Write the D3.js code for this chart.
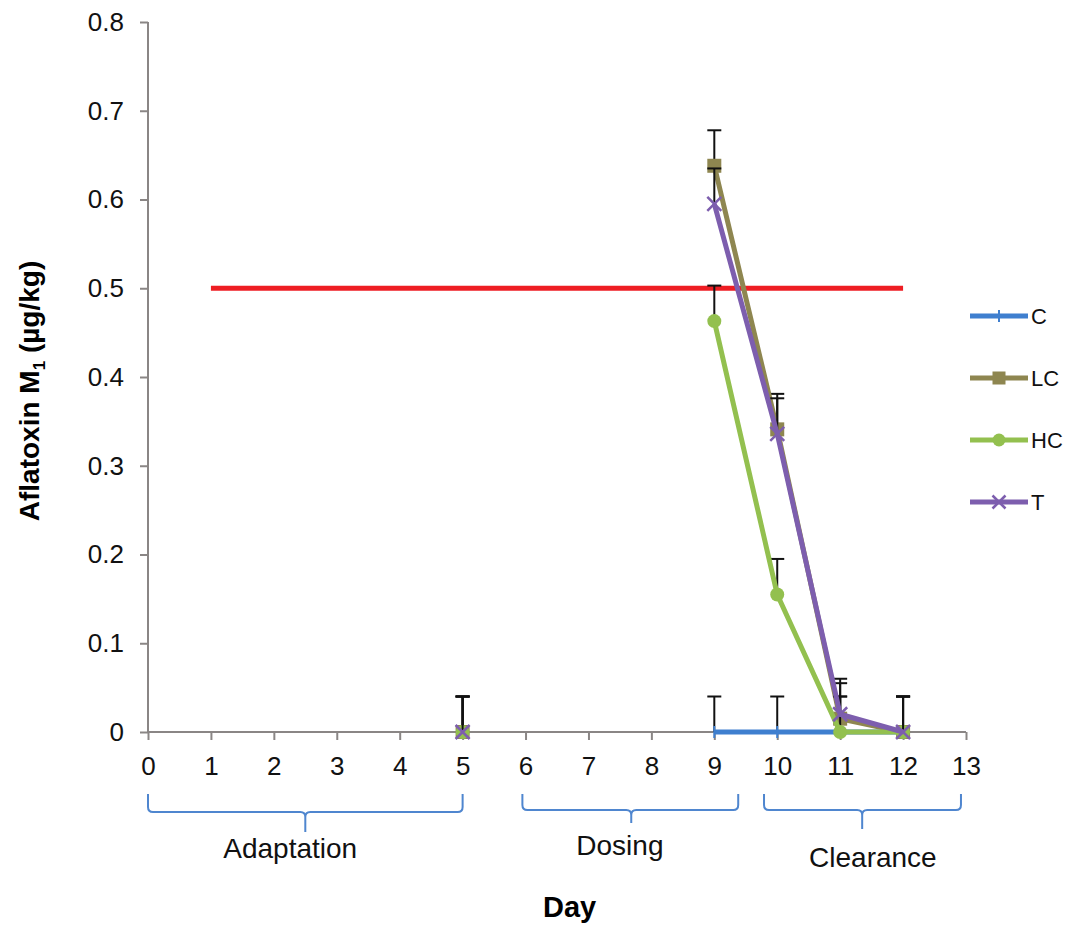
<!DOCTYPE html>
<html>
<head>
<meta charset="utf-8">
<script src="https://cdn.jsdelivr.net/npm/d3@7"></script>
<style>
    body { margin: 0; background: #ffffff; }
    svg { display: block; font-family: "Liberation Sans", Arial, sans-serif; }
</style>
</head>
<body>
<div id="chart"></div>
<script>
    //days shown on the category axis
    var days = [0, 1, 2, 3, 4, 5, 6, 7, 8, 9, 10, 11, 12, 13];

    //series values per day (null = no sample)
    var valuesC  = [null, null, null, null, null, 0, null, null, null, 0, 0, 0, 0, null];
    var valuesLC = [null, null, null, null, null, 0, null, null, null, 0.638, 0.341, 0.015, 0, null];
    var valuesHC = [null, null, null, null, null, 0, null, null, null, 0.463, 0.155, 0, 0, null];
    var valuesT  = [null, null, null, null, null, 0, null, null, null, 0.595, 0.336, 0.02, 0, null];

    //positive error bar per day
    var errorC  = [null, null, null, null, null, 0.04, null, null, null, 0.04, 0.04, 0.04, 0.04, null];
    var errorLC = [null, null, null, null, null, 0.04, null, null, null, 0.04, 0.04, 0.04, 0.04, null];
    var errorHC = [null, null, null, null, null, 0.04, null, null, null, 0.04, 0.04, 0.04, 0.04, null];
    var errorT  = [null, null, null, null, null, 0.04, null, null, null, 0.04, 0.04, 0.04, 0.04, null];

    var yTicks = [0, 0.1, 0.2, 0.3, 0.4, 0.5, 0.6, 0.7, 0.8];

    //maximum residue limit line
    var limitValue = 0.5;
    var limitDays = [1, 12];

    //study phases under the axis
    var phaseNames = ['Adaptation', 'Dosing', 'Clearance'];
    var phaseStart = [0, 5.95, 9.79];
    var phaseEnd = [5, 9.38, 12.92];
    var phaseMid = [2.5, 7.68, 11.35];
    var phaseLabelAt = [2.26, 7.5, 11.52];

    //declare needed variables
    var width = 1073,
        height = 929,
        plot = { left: 148, right: 966, top: 22, bottom: 732 },
        axisColor = '#8a8685';

    var series = [
        { name: 'C', values: valuesC, errors: errorC, color: '#3f7fcf', marker: 'dash' },
        { name: 'LC', values: valuesLC, errors: errorLC, color: '#8e8650', marker: 'square' },
        { name: 'HC', values: valuesHC, errors: errorHC, color: '#93c04f', marker: 'circle' },
        { name: 'T', values: valuesT, errors: errorT, color: '#7d5eae', marker: 'cross' }
    ];

    var x = d3.scaleLinear().domain([0, 13]).range([plot.left, plot.right]);
    var y = d3.scaleLinear().domain([0, 0.8]).range([plot.bottom, plot.top]);

    var svg = d3.select('#chart').append('svg')
        .attr('width', width)
        .attr('height', height);

    svg.append('rect').attr('width', width).attr('height', height).attr('fill', '#ffffff');

    //y axis
    var yAxis = svg.append('g')
        .attr('transform', 'translate(' + plot.left + ',0)')
        .call(d3.axisLeft(y).tickValues(yTicks).tickSize(8).tickPadding(16)
            .tickFormat(function (d) { return d === 0 ? '0' : d3.format('.1f')(d); }));

    //x axis
    var xAxis = svg.append('g')
        .attr('transform', 'translate(0,' + plot.bottom + ')')
        .call(d3.axisBottom(x).tickValues(days).tickSize(8).tickPadding(17).tickFormat(d3.format('d')));

    [yAxis, xAxis].forEach(function (a) {
        a.select('.domain').attr('stroke', axisColor).attr('stroke-width', 2)
            .attr('d', a === yAxis ? 'M0,' + plot.top + 'V' + plot.bottom : 'M' + plot.left + ',0H' + plot.right);
        a.selectAll('.tick line').attr('stroke', axisColor).attr('stroke-width', 2);
        a.selectAll('.tick text').attr('fill', '#111').attr('font-size', 26);
    });

    //axis titles
    svg.append('text')
        .attr('x', x(6.7)).attr('y', 917)
        .attr('text-anchor', 'middle')
        .attr('font-size', 29).attr('font-weight', 'bold')
        .text('Day');

    var yTitle = svg.append('text')
        .attr('transform', 'translate(39,391) rotate(-90)')
        .attr('text-anchor', 'middle')
        .attr('font-size', 28).attr('font-weight', 'bold');
    yTitle.append('tspan').text('Aflatoxin M');
    yTitle.append('tspan').attr('font-size', 17).attr('dy', 6).text('1');
    yTitle.append('tspan').attr('dy', -6).text(' (µg/kg)');

    //phase brackets
    var phaseG = svg.append('g');
    phaseNames.forEach(function (name, i) {
        var x0 = x(phaseStart[i]), x1 = x(phaseEnd[i]), xc = x(phaseMid[i]),
            top = 794, mid = i === 0 ? 812 : 810, bot = [832, 823, 829][i], r = 5;
        var p = 'M' + x0 + ',' + top + 'V' + (mid - r) + 'Q' + x0 + ',' + mid + ' ' + (x0 + r) + ',' + mid +
            'H' + (xc - r) + 'Q' + xc + ',' + mid + ' ' + xc + ',' + (mid + r) + 'V' + bot +
            'M' + xc + ',' + (mid + r) + 'Q' + xc + ',' + mid + ' ' + (xc + r) + ',' + mid +
            'H' + (x1 - r) + 'Q' + x1 + ',' + mid + ' ' + x1 + ',' + (mid - r) + 'V' + top;
        phaseG.append('path').attr('d', p)
            .attr('fill', 'none').attr('stroke', '#4f86cf').attr('stroke-width', 2);
        phaseG.append('text')
            .attr('x', x(phaseLabelAt[i])).attr('y', [858, 855, 867][i])
            .attr('text-anchor', 'middle').attr('font-size', 28).attr('fill', '#111')
            .text(name);
    });

    //limit line
    svg.append('line')
        .attr('x1', x(limitDays[0])).attr('x2', x(limitDays[1]))
        .attr('y1', y(limitValue)).attr('y2', y(limitValue))
        .attr('stroke', '#ee1d23').attr('stroke-width', 5);

    //draws a marker into a group
    function drawMarker(g, s, cx, cy, size) {
        if (s.marker === 'square') {
            g.append('rect').attr('x', cx - size / 2).attr('y', cy - size / 2)
                .attr('width', size).attr('height', size).attr('fill', s.color);
        } else if (s.marker === 'circle') {
            g.append('circle').attr('cx', cx).attr('cy', cy).attr('r', size / 2).attr('fill', s.color);
        } else if (s.marker === 'cross') {
            var h = size / 2;
            g.append('path').attr('d', 'M' + (cx - h) + ',' + (cy - h) + 'L' + (cx + h) + ',' + (cy + h) +
                'M' + (cx - h) + ',' + (cy + h) + 'L' + (cx + h) + ',' + (cy - h))
                .attr('stroke', s.color).attr('stroke-width', 2.5);
        } else {
            g.append('line').attr('x1', cx).attr('x2', cx).attr('y1', cy - size / 2).attr('y2', cy + size / 2)
                .attr('stroke', s.color).attr('stroke-width', 2);
        }
    }

    var line = d3.line()
        .defined(function (d) { return d.v !== null; })
        .x(function (d) { return x(d.day); })
        .y(function (d) { return y(d.v); });

    //iterate series
    series.forEach(function (s) {
        var g = svg.append('g');
        var pts = days.map(function (d, i) { return { day: d, v: s.values[i], e: s.errors[i] }; });

        //error bars
        pts.filter(function (p) { return p.v !== null && p.e !== null; }).forEach(function (p) {
            var cx = x(p.day), top = y(p.v + p.e);
            g.append('line').attr('x1', cx).attr('x2', cx).attr('y1', y(p.v)).attr('y2', top)
                .attr('stroke', '#111').attr('stroke-width', 2);
            g.append('line').attr('x1', cx - 7).attr('x2', cx + 7).attr('y1', top).attr('y2', top)
                .attr('stroke', '#111').attr('stroke-width', 2);
        });

        g.append('path').attr('d', line(pts))
            .attr('fill', 'none').attr('stroke', s.color).attr('stroke-width', 5)
            .attr('stroke-linejoin', 'round');

        pts.filter(function (p) { return p.v !== null; }).forEach(function (p) {
            drawMarker(g, s, x(p.day), y(p.v), s.marker === 'dash' ? 12 : 14);
        });
    });

    //legend
    var legend = svg.append('g');
    series.forEach(function (s, i) {
        var ly = 316 + i * 62;
        legend.append('line').attr('x1', 970).attr('x2', 1028).attr('y1', ly).attr('y2', ly)
            .attr('stroke', s.color).attr('stroke-width', 5);
        drawMarker(legend, s, 999, ly, s.marker === 'dash' ? 12 : 13);
        legend.append('text').attr('x', 1031).attr('y', ly).attr('dy', '0.36em')
            .attr('font-size', 22).attr('fill', '#111').text(s.name);
    });
</script>
</body>
</html>
